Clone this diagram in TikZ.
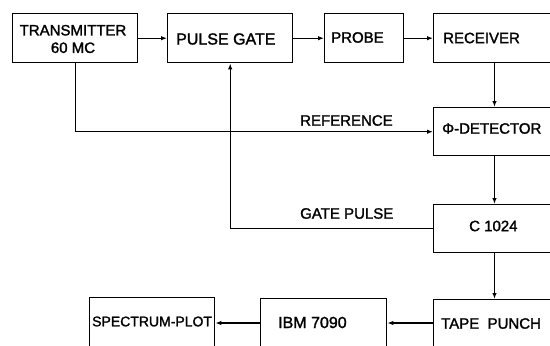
\documentclass[tikz,border=0pt]{standalone}
\usepackage{fontspec}
\setmainfont{Liberation Sans}[FakeBold=1.6]
\usetikzlibrary{arrows.meta}
\begin{document}
\begin{tikzpicture}[x=1pt,y=-1pt,
  box/.style={draw, line width=1.4pt, rectangle, inner sep=0pt, anchor=north west},
  lbl/.style={inner sep=0pt, anchor=west, font=\fontsize{15}{17}\selectfont},
  conn/.style={line width=1.2pt},
  arr/.style={conn, -{Latex[length=6pt,width=4.5pt]}}]
\useasboundingbox (0,0) rectangle (550,346);
\fill[white] (0,0) rectangle (550,346);
\begin{scope}
\clip (0,0) rectangle (550,346);
% boxes
\node[box, minimum width=125pt, minimum height=49pt] (tx) at (12,13) {};
\node[box, minimum width=125pt, minimum height=49pt] (pg) at (167,13) {};
\node[box, minimum width=79pt, minimum height=49pt] (pr) at (324,13) {};
\node[box, minimum width=140pt, minimum height=49pt] (rc) at (433,13) {};
\node[box, minimum width=140pt, minimum height=48pt] (det) at (433,107) {};
\node[box, minimum width=140pt, minimum height=48pt] (c) at (433,204) {};
\node[box, minimum width=140pt, minimum height=70pt] (tp) at (433,299) {};
\node[box, minimum width=126pt, minimum height=72pt] (ibm) at (260,298) {};
\node[box, minimum width=125pt, minimum height=73pt] (sp) at (89,297) {};
% texts
\node[inner sep=0pt, align=center, font=\fontsize{15}{17.5}\selectfont] (txt) at (73,39) {TRANSMITTER\\60 MC};
\node[lbl, font=\fontsize{16}{18}\selectfont] (pgt) at (176,39) {PULSE GATE};
\node[lbl] (prt) at (331,37.5) {PROBE};
\node[lbl] (rct) at (443,38) {RECEIVER};
\node[lbl] (dett) at (442,128.5) {Φ-DETECTOR};
\node[lbl] (ct) at (469,226) {C 1024};
\node[lbl] (tpt) at (441,323.5) {TAPE\ \ PUNCH};
\node[lbl, font=\fontsize{16}{18}\selectfont] (ibmt) at (278,322.5) {IBM 7090};
\node[lbl, font=\fontsize{14}{16}\selectfont] (spt) at (92,321.5) {SPECTRUM-PLOT};
\node[lbl] (reft) at (300,120.5) {REFERENCE};
\node[lbl] (gpt) at (300,213.5) {GATE PULSE};
% connectors
\coordinate (vx) at (494.5,0);
\coordinate (by) at (0,323);
\draw[arr] (tx.east) -- (pg.west);
\draw[arr] (pg.east) -- (pr.west);
\draw[arr] (pr.east) -- (rc.west);
\draw[arr] (vx |- rc.south) -- (vx |- det.north);
\draw[arr] (vx |- det.south) -- (vx |- c.north);
\draw[arr] (vx |- c.south) -- (vx |- tp.north);
\draw[arr] (tx.south) |- (det.west);
\draw[arr] (c.west) -| (pg.south);
\draw[arr] (tp.west |- by) -- (ibm.east |- by);
\draw[arr] (ibm.west |- by) -- (sp.east |- by);
\end{scope}
\end{tikzpicture}
\end{document}
